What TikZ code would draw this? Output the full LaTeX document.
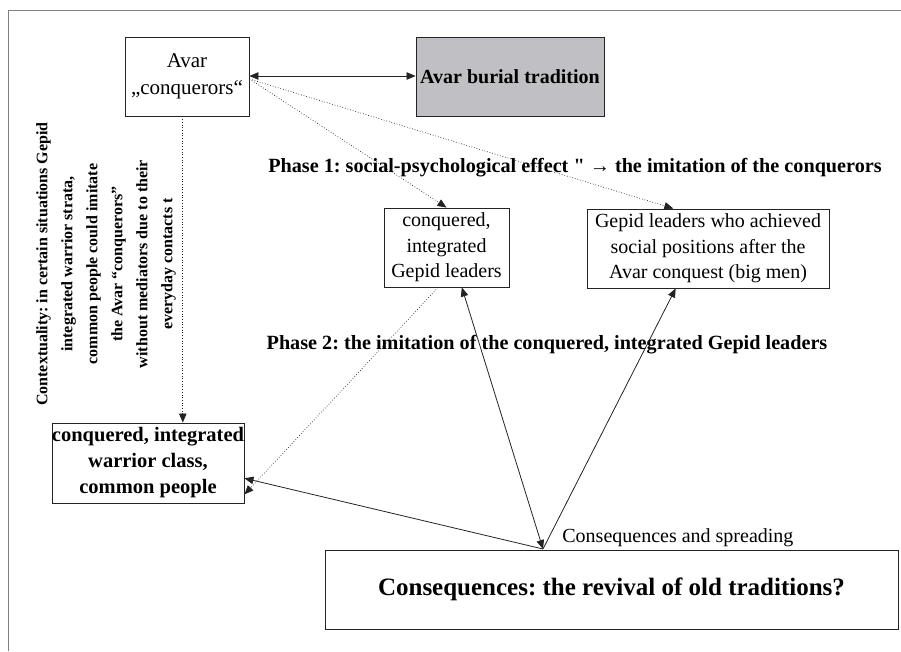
\documentclass[tikz,border=0pt]{standalone}
\usepackage{fontspec}
\setmainfont{Liberation Serif}
\newfontfamily\straightfont{Liberation Serif}
\usetikzlibrary{arrows.meta}
\definecolor{burialgray}{RGB}{191,191,196}
\definecolor{inkgray}{RGB}{35,35,35}
\frenchspacing
\begin{document}
\begin{tikzpicture}[x=1pt,y=-1pt,line width=0.8pt,color=inkgray,
  >={Triangle[length=9pt,width=7.5pt]},
  box/.style={draw=inkgray,line width=0.9pt,inner sep=0pt,align=center,text=black},
  dots/.style={dotted,line width=0.7pt}]
\useasboundingbox (0,0) rectangle (901,651);
% frame
\draw[gray,line width=1pt] (8.5,651) -- (8.5,10.5) -- (901,10.5);
% boxes
\node[box,minimum width=124pt,minimum height=79pt,font=\fontsize{21}{27}\selectfont] (avar) at (187,76.5)
  {Avar\\„conquerors“};
\node[box,fill=burialgray,minimum width=188pt,minimum height=79pt,font=\fontsize{20}{25}\selectfont\bfseries] (burial) at (510,76.5)
  {Avar burial tradition};
\node[box,minimum width=125pt,minimum height=79pt,font=\fontsize{20}{25.5}\selectfont] (gepid) at (446.5,247.5)
  {conquered,\\integrated\\Gepid leaders};
\node[box,minimum width=242pt,minimum height=79pt,font=\fontsize{20}{25.5}\selectfont] (bigmen) at (708,248.5)
  {Gepid leaders who achieved\\social positions after the\\Avar conquest (big men)};
\node[box,minimum width=192pt,minimum height=80pt,font=\fontsize{20.5}{26}\selectfont\bfseries] (warrior) at (148,463)
  {conquered, integrated\\warrior class,\\common people};
\node[box,minimum width=573pt,minimum height=79pt,font=\fontsize{25}{30}\selectfont\bfseries] (result) at (611.5,589.5)
  {Consequences: the revival of old traditions?};
% texts
\node[text=black,font=\fontsize{20.2}{24}\selectfont\bfseries] (phase1) at (575,168)
  {Phase 1: social-psychological effect {\straightfont\bfseries "} → the imitation of the conquerors};
\node[text=black,font=\fontsize{20.2}{24}\selectfont\bfseries] (phase2) at (547,345)
  {Phase 2: the imitation of the conquered, integrated Gepid leaders};
\node[text=black,anchor=west,inner sep=0pt,font=\fontsize{20}{24}\selectfont] (spread) at (562,538)
  {Consequences and spreading};
\node[text=black,rotate=90,align=center,font=\fontsize{16}{25}\selectfont\bfseries] (context) at (106,264)
  {Contextuality: in certain situations Gepid\\
   integrated warrior strata,\\common people could imitate\\the Avar “conquerors”\\
   without mediators due to their\\everyday contacts t};
\coordinate (meet) at (543,549);
% connectors
\draw[<->] (avar.east |- 0,76) -- (burial.west |- 0,76);
\draw[dots,->] (avar.east |- 0,79) -- (gepid.north);
\draw[dots,->] (avar.east |- 0,79) -- (bigmen.131);
\draw[dots,->] (avar.-96) -- (avar.-96 |- warrior.north);
\draw[dots,->] (gepid.-102) -- (warrior.-18.4);
\draw[<->] (gepid.-69) -- (meet);
\draw[->] (meet) -- (bigmen.-129);
\draw[->] (meet) -- (warrior.-9.5);
\end{tikzpicture}
\end{document}
